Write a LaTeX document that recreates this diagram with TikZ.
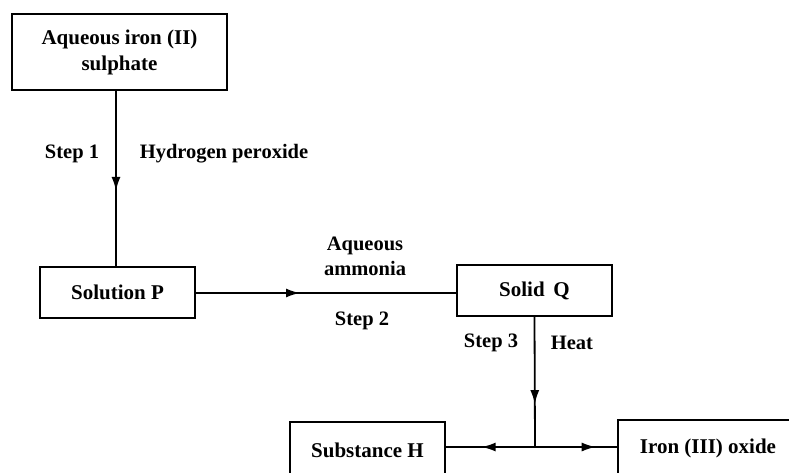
\documentclass[tikz,border=0pt]{standalone}
\usepackage{fontspec}
\setmainfont{Liberation Serif}
\usetikzlibrary{decorations.markings,arrows.meta}
\begin{document}
\begin{tikzpicture}[x=1pt,y=-1pt,
  box/.style={draw,line width=2pt,inner sep=0pt,font=\bfseries\fontsize{21}{26}\selectfont,align=center},
  lbl/.style={font=\bfseries\fontsize{20.5}{25}\selectfont,align=center,inner sep=0pt},
  conn/.style={line width=1.8pt},
  midarrow/.style={postaction={decorate},decoration={markings,mark=at position #1 with {\arrow{Latex[length=14pt,width=9pt]}}}}
]
\useasboundingbox (0,0) rectangle (789,472);
\clip (0,0) rectangle (789,472);
\node[box,minimum width=215pt,minimum height=76pt] (feso4) at (119.5,52) {Aqueous iron (II)\\sulphate};
\node[box,minimum width=155pt,minimum height=51pt] (P) at (117.5,292.5) {Solution P};
\node[box,minimum width=155pt,minimum height=51pt] (Q) at (534.5,290.5) {Solid\, Q};
\node[box,minimum width=155pt,minimum height=56pt] (H) at (367.5,450) {Substance H};
\node[box,minimum width=180pt,minimum height=56pt] (Fe) at (708,448) {Iron (III) oxide};
\coordinate (top1) at (116,90);
\coordinate (Ptop) at (116,267);
\draw[conn,midarrow=0.57] (top1) -- (Ptop);
\draw[conn,midarrow=0.4] (P.east |- 0,293) coordinate (pe) -- (Q.west |- 0,293);
\coordinate (j) at (535,447);
\draw[conn,midarrow=0.67] (Q.south) -- (j);
\draw[conn,midarrow=0.6] (j) -- (H.east |- j);
\draw[conn,midarrow=0.74] (j) -- (Fe.west |- j);
\node[lbl] (s1) at (72,154) {Step 1};
\node[lbl] (hp) at (224,154) {Hydrogen peroxide};
\node[lbl] (am) at (365,256) {Aqueous\\ammonia};
\node[lbl] (s2) at (362,321) {Step 2};
\node[lbl] (s3) at (491,343) {Step 3};
\node[lbl] (ht) at (572,343) {Heat};
\end{tikzpicture}
\end{document}
